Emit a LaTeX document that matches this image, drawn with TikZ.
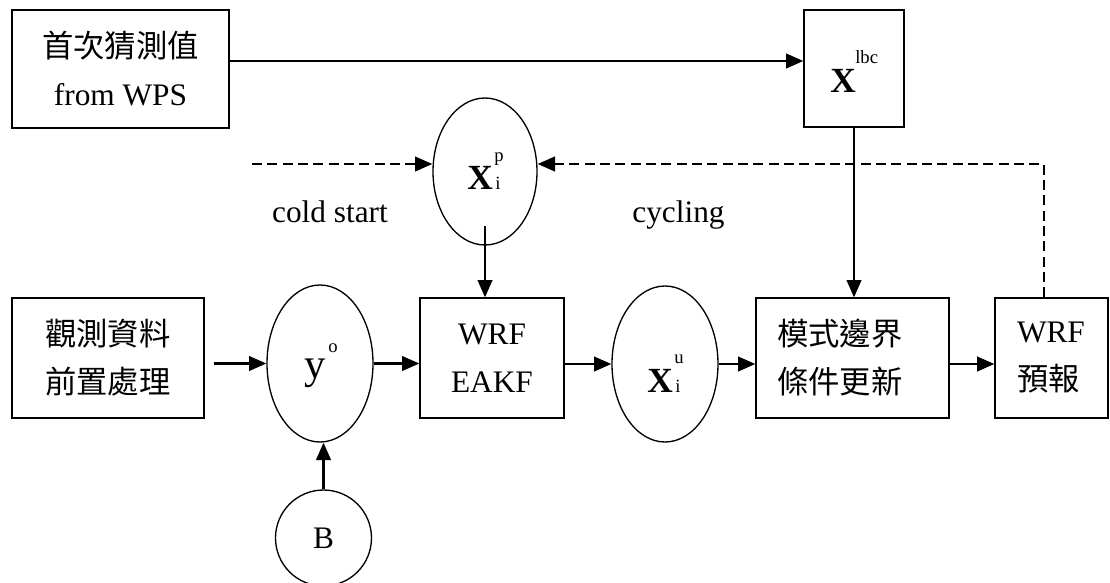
\documentclass[tikz,border=0pt]{standalone}
\usepackage{fontspec}
\setmainfont{Liberation Serif}
\newfontfamily\cjk{Noto Sans CJK TC}
\usetikzlibrary{arrows.meta,shapes.geometric,calc}
\begin{document}
\begin{tikzpicture}[x=0.75pt,y=-0.75pt,
 box/.style={draw,line width=1pt,rectangle,inner sep=0pt,font=\fontsize{23.5pt}{36pt}\selectfont,align=center},
 oval/.style={draw,line width=1pt,ellipse,inner sep=0pt},
 arr/.style={line width=1.6pt,-{Triangle[length=13pt,width=11pt]}},
 darr/.style={arr,dash pattern=on 7.5pt off 4pt},
 lbl/.style={inner sep=0pt,anchor=base west},
 bigx/.style={font=\fontsize{26.5pt}{30pt}\selectfont\bfseries},
 supl/.style={font=\fontsize{14pt}{16pt}\selectfont},
 txt/.style={font=\fontsize{23.5pt}{36pt}\selectfont}
]
\useasboundingbox (0,0) rectangle (1110,582);

% boxes
\node[box,minimum width=162.75pt,minimum height=88.5pt] (fg) at (120.5,69) {{\cjk 首次猜測值}\\from WPS};
\node[box,minimum width=75pt,minimum height=87.75pt] (lbc) at (854,68.5) {};
\node[box,minimum width=144pt,minimum height=90pt] (obs) at (108,358) {{\cjk 觀測資料}\\{\cjk 前置處理}};
\node[box,minimum width=108pt,minimum height=90pt] (eakf) at (492,358) {WRF\\EAKF};
\node[box,minimum width=144.75pt,minimum height=90pt,text width=113.25pt,align=left] (bdy) at (852.5,358) {{\cjk 模式邊界}\\{\cjk 條件更新}};
\node[box,minimum width=84.75pt,minimum height=90pt,text width=51.75pt,align=left] (fc) at (1051.5,358) {WRF\\{\cjk 預報}};

% ellipses
\node[oval,minimum width=78pt,minimum height=110.25pt] (xp) at (485,171.5) {};
\node[oval,minimum width=79.5pt,minimum height=117.75pt] (yo) at (320,363.5) {};
\node[oval,minimum width=79.5pt,minimum height=117pt] (xu) at (665,364) {};
\node[draw,line width=1pt,circle,minimum size=72pt,inner sep=0pt,txt] (bb) at (323.5,538) {B};

% labels inside shapes
\node[lbl,bigx] (xpX) at (467,189) {X};
\node[lbl,supl] (xpp) at (494,161) {p};
\node[lbl,supl] (xpi) at (495,189) {i};
\node[lbl,bigx] (xuX) at (647,392) {X};
\node[lbl,supl] (xuu) at (674,363) {u};
\node[lbl,supl] (xui) at (675,392) {i};
\node[lbl,bigx] (lbX) at (830,92) {X};
\node[lbl,supl] (lbs) at (855,63) {lbc};
\node[lbl,font=\fontsize{32pt}{36pt}\selectfont] (yy) at (304,378) {y};
\node[lbl,supl] (yos) at (328,352) {o};

% texts
\node[txt,anchor=base,inner sep=0pt] (cold) at (330,222) {cold start};
\node[txt,anchor=base,inner sep=0pt] (cyc) at (678.5,222) {cycling};

% arrows
\coordinate (t1) at ([yshift=6pt]fg.east);
\draw[arr] (t1) -- (t1 -| lbc.west);
\draw[arr] (lbc.south) -- (lbc.south |- bdy.north);
\draw[arr] ([yshift=15pt]xp.south) -- (xp.south |- eakf.north);
\coordinate (o1) at (obs.east |- yo.west);
\draw[arr] ([xshift=6.75pt]o1) -- (yo.west);
\draw[arr] (yo.east) -- (yo.east -| eakf.west);
\draw[arr] (eakf.east |- xu.west) -- (xu.west);
\draw[arr] (xu.east) -- (xu.east -| bdy.west);
\coordinate (o2) at (bdy.east |- xu.east);
\draw[arr] (o2) -- (o2 -| fc.west);
\draw[arr] (bb.north) -- (bb.north |- yo.south);

% dashed
\coordinate (cs) at (252,164);
\draw[darr] (cs) -- (cs -| xp.west);
\draw[darr] ([xshift=-5.6pt]fc.north) |- (cs -| xp.east);
\end{tikzpicture}
\end{document}
